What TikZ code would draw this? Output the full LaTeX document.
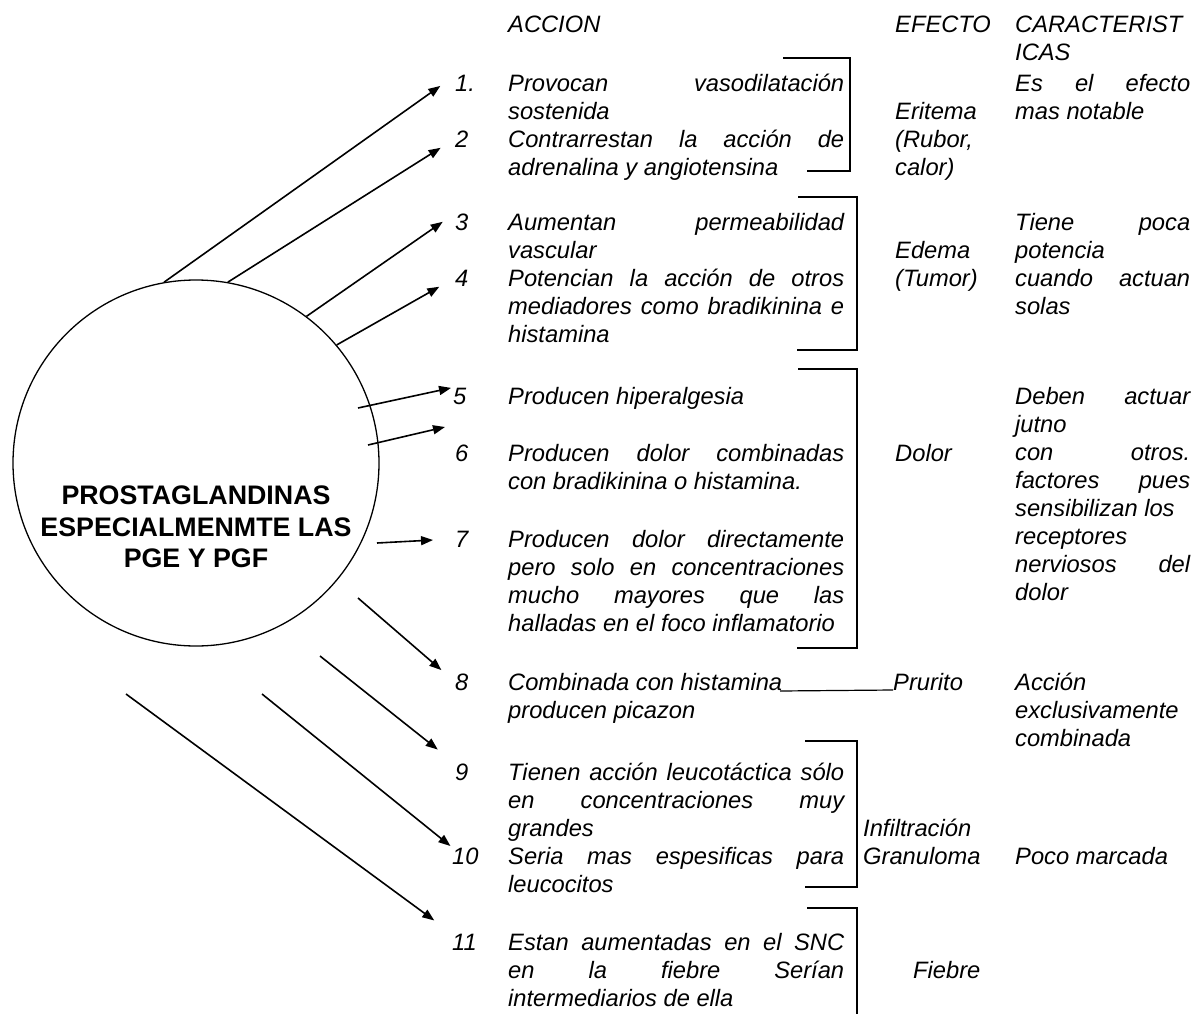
\documentclass[tikz,border=0pt]{standalone}
\usepackage{fontspec}
\setmainfont{Liberation Sans}
\usetikzlibrary{arrows.meta}
\newcommand{\TextSize}{\fontsize{23.7pt}{28pt}\selectfont}
\newcommand{\TitleSize}{\fontsize{26.8pt}{31.5pt}\selectfont}
\tolerance=10000
\hyphenpenalty=10000
\hbadness=10000

\begin{document}
\begin{tikzpicture}[x=1pt, y=-1pt,
    txt/.style={anchor=base west, inner sep=0pt, font=\TextSize\itshape},
    col/.style={txt, text width=#1, align=justify},
    brk/.style={line width=1.5pt},
    arr/.style={line width=1.6pt, -{Triangle[length=12pt, width=9pt]}}]

    \useasboundingbox (0,0) rectangle (1196,1014);

    % draw circle
    \node[circle, draw, line width=1.3pt, minimum size=366pt, inner sep=0pt] (pg) at (196,463) {};
    \node[font=\TitleSize\bfseries, align=center] (pgtext) at (196,527) {PROSTAGLANDINAS\\ESPECIALMENMTE LAS\\PGE Y PGF};


    % draw headers
    \node[txt] (hacc) at (508,33) {ACCION};
    \node[txt] (hefe) at (895,33) {EFECTO};
    \node[col=180pt] (hcar) at (1015,33) {CARACTERIST\newline ICAS};


    % draw numbers
    \node[txt] (n1) at (455,92) {1.};
    \node[txt] (n2) at (455,147) {2};
    \node[txt] (n3) at (455,230) {3};
    \node[txt] (n4) at (455,286) {4};
    \node[txt] (n5) at (453,404) {5};
    \node[txt] (n6) at (455,461) {6};
    \node[txt] (n7) at (455,547) {7};
    \node[txt] (n8) at (455,690) {8};
    \node[txt] (n9) at (455,780) {9};
    \node[txt] (n10) at (452,864) {10};
    \node[txt] (n11) at (452,950) {11};


    % draw actions
    \node[col=336pt] (a1) at (508,92) {Provocan vasodilatación\linebreak sostenida};
    \node[col=336pt] (a2) at (508,147) {Contrarrestan la acción de\linebreak adrenalina y angiotensina};
    \node[col=336pt] (a3) at (508,230) {Aumentan permeabilidad\linebreak vascular};
    \node[col=336pt] (a4) at (508,286) {Potencian la acción de otros\linebreak mediadores como bradikinina e\linebreak histamina};
    \node[col=336pt] (a5) at (508,404) {Producen hiperalgesia};
    \node[col=336pt] (a6) at (508,461) {Producen dolor combinadas\linebreak con bradikinina o histamina.};
    \node[col=336pt] (a7) at (508,547) {Producen dolor directamente\linebreak pero solo en concentraciones\linebreak mucho mayores que las\linebreak halladas en el foco inflamatorio};
    \node[col=336pt] (a8) at (508,690) {Combinada con histamina\newline producen picazon};
    \node[col=336pt] (a9) at (508,780) {Tienen acción leucotáctica sólo\linebreak en concentraciones muy\linebreak grandes};
    \node[col=336pt] (a10) at (508,864) {Seria mas espesificas para\linebreak leucocitos};
    \node[col=336pt] (a11) at (508,950) {Estan aumentadas en el SNC\linebreak en la fiebre Serían\linebreak intermediarios de ella};


    % draw effects
    \node[col=115pt] (e1) at (895,120) {Eritema\newline (Rubor,\newline calor)};
    \node[col=115pt] (e3) at (895,258) {Edema\newline (Tumor)};
    \node[txt] (e5) at (895,461) {Dolor};
    \node[txt] (e8) at (893,690) {Prurito};
    \node[col=140pt] (e9) at (863,836) {Infiltración\newline Granuloma};
    \node[txt] (e11) at (913,978) {Fiebre};


    % draw characteristics
    \node[col=175pt] (c1) at (1015,92) {Es el efecto\linebreak mas notable};
    \node[col=175pt] (c3) at (1015,230) {Tiene poca\linebreak potencia\linebreak cuando actuan\linebreak solas};
    \node[col=175pt] (c5) at (1015,404) {Deben actuar\linebreak jutno\linebreak con otros.\linebreak factores pues\linebreak sensibilizan los\newline receptores\linebreak nerviosos del\linebreak dolor};
    \node[col=175pt] (c8) at (1015,690) {Acción\newline exclusivamente\newline combinada};
    \node[txt] (c10) at (1015,864) {Poco marcada};


    % draw brackets
    \draw[brk] (783,58) -- (850,58) -- (850,171) -- (807,171);
    \draw[brk] (798,197) -- (857,197) -- (857,350) -- (797,350);
    \draw[brk] (798,369) -- (857,369) -- (857,648) -- (797,648);
    \draw[brk] (805,741) -- (857,741) -- (857,887) -- (805,887);
    \draw[brk] (807,908) -- (857,908) -- (857,1014);

    \coordinate (u8) at (780,691);
    \draw[line width=1.2pt] (u8) -- (e8.base west);


    % draw arrows
    \coordinate (s5) at (358,408);
    \coordinate (s6) at (368,445);
    \coordinate (t6) at (445,427);
    \coordinate (s7) at (377,543);
    \coordinate (s8) at (358,598);
    \coordinate (s9) at (320,656);
    \coordinate (s10) at (262,694);
    \coordinate (s11) at (126,694);

    \draw[arr, shorten >=18pt] (pg.100) -- (n1.north west);
    \draw[arr, shorten >=17pt] (pg.80) -- (n2.west);
    \draw[arr, shorten >=15pt] (pg.53) -- (n3.north west);
    \draw[arr, shorten >=18pt] (pg.40) -- (n4.west);
    \draw[arr, shorten >=2pt] (s5) -- (n5.north west);
    \draw[arr] (s6) -- (t6);
    \draw[arr, shorten >=22pt] (s7) -- (n7.west);
    \draw[arr, shorten >=18pt] (s8) -- (n8.west);
    \draw[arr, shorten >=22pt] (s9) -- (n9.north west);
    \draw[arr, shorten >=2pt] (s10) -- (n10.north west);
    \draw[arr, shorten >=22pt] (s11) -- (n11.north west);

\end{tikzpicture}
\end{document}
